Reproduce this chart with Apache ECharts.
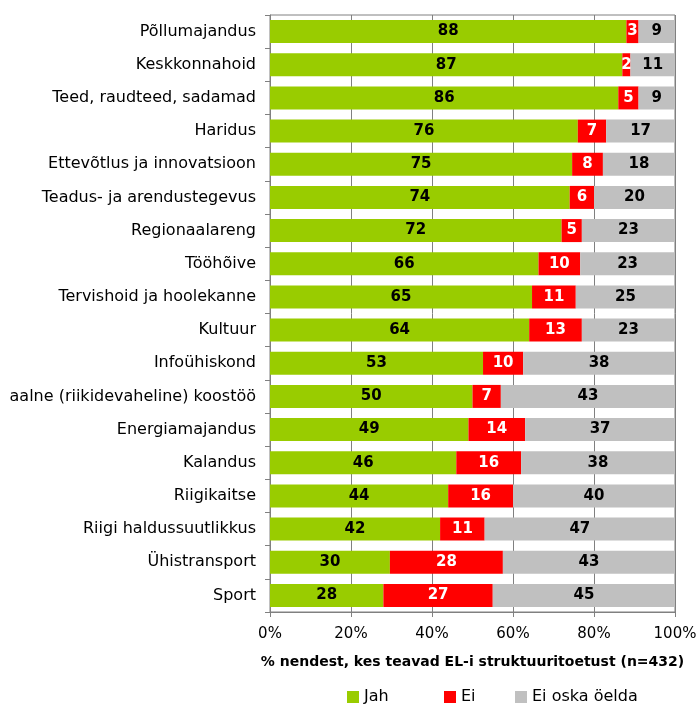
<!DOCTYPE html>
<html>
<head>
<meta charset="utf-8">
<script src="https://cdn.jsdelivr.net/npm/echarts@6/dist/echarts.min.js"></script>
<style>
  html, body { margin: 0; padding: 0; background: #fff; }
  #chart { width: 699px; height: 706px; }
</style>
</head>
<body>
<div id="chart"></div>
<script>
const categories = [
  'Põllumajandus', 'Keskkonnahoid', 'Teed, raudteed, sadamad', 'Haridus',
  'Ettevõtlus ja innovatsioon', 'Teadus- ja arendustegevus', 'Regionaalareng',
  'Tööhõive', 'Tervishoid ja hoolekanne', 'Kultuur', 'Infoühiskond',
  'aalne (riikidevaheline) koostöö', 'Energiamajandus', 'Kalandus',
  'Riigikaitse', 'Riigi haldussuutlikkus', 'Ühistransport', 'Sport'
]
// shares in %; labels show them rounded
const jah = [88, 87, 86, 76, 74.6, 74, 72, 66.3, 64.7, 64, 52.6, 50, 49, 46, 44, 42, 29.6, 28]
const ei = [3, 2, 5, 7, 7.6, 6, 5, 10.3, 10.8, 13, 9.9, 7, 14, 16, 16, 11, 27.9, 27]
const eiOska = [9, 11, 9, 17, 17.8, 20, 23, 23.4, 24.5, 23, 37.5, 43, 37, 38, 40, 47, 42.5, 45]

const font = 'DejaVu Sans, sans-serif'

function barSeries (name, data, color, labelColor) {
  return {
    name: name,
    type: 'bar',
    stack: 'total',
    barWidth: 23,
    data: data,
    itemStyle: { color: color },
    label: {
      show: true,
      position: 'inside',
      color: labelColor,
      fontWeight: 'bold',
      fontSize: 15,
      fontFamily: font,
      formatter: p => Math.round(p.value)
    }
  }
}

function legendItem (name, left) {
  return {
    bottom: -4,
    left: left,
    itemWidth: 12,
    itemHeight: 12,
    itemGap: 0,
    icon: 'rect',
    textStyle: { fontSize: 16, color: '#000', fontFamily: font },
    data: [name]
  }
}

const chart = echarts.init(document.getElementById('chart'))
chart.setOption({
  animation: false,
  textStyle: { fontFamily: font },
  grid: {
    left: 270, right: 24, top: 15, bottom: 94,
    outerBoundsMode: 'none',
    containLabel: false,
    show: true, borderColor: '#808080', borderWidth: 1
  },
  legend: [
    legendItem('Jah', 342),
    legendItem('Ei', 439),
    legendItem('Ei oska öelda', 510)
  ],
  xAxis: {
    type: 'value',
    min: 0,
    max: 100,
    interval: 20,
    name: '% nendest, kes teavad EL-i struktuuritoetust (n=432)',
    nameLocation: 'middle',
    nameGap: 43,
    nameTextStyle: { fontSize: 14, fontWeight: 'bold', color: '#000', fontFamily: font },
    axisLine: { show: true, lineStyle: { color: '#808080' } },
    axisTick: { show: true, length: 5, lineStyle: { color: '#808080' } },
    axisLabel: { formatter: '{value}%', fontSize: 15, color: '#000', margin: 15, fontFamily: font },
    splitLine: { show: true, lineStyle: { color: '#808080', width: 1 } }
  },
  yAxis: {
    type: 'category',
    inverse: true,
    data: categories,
    axisLine: { show: true, lineStyle: { color: '#808080' } },
    axisTick: { show: true, length: 5, interval: 0, lineStyle: { color: '#808080' } },
    axisLabel: { fontSize: 16, color: '#000', margin: 14, fontFamily: font, interval: 0 }
  },
  series: [
    barSeries('Jah', jah, '#99CC00', '#000'),
    barSeries('Ei', ei, '#FF0000', '#fff'),
    barSeries('Ei oska öelda', eiOska, '#C0C0C0', '#000')
  ]
})
</script>
</body>
</html>
